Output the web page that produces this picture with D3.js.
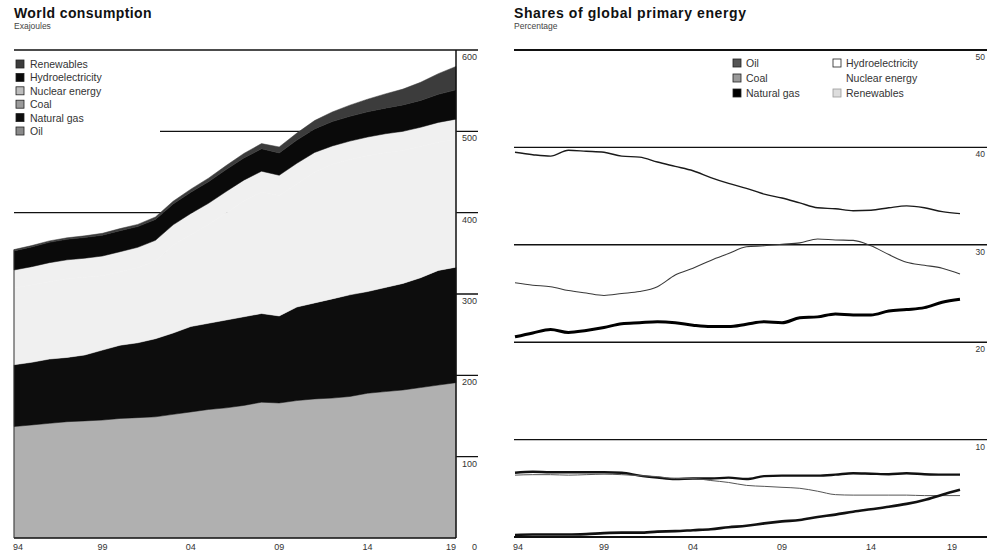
<!DOCTYPE html>
<html>
<head>
<meta charset="utf-8">
<script src="https://cdn.jsdelivr.net/npm/d3@7"></script>
<style>
  body { margin: 0; background: #fff; }
  svg { display: block; font-family: "Liberation Sans", Arial, sans-serif; }
</style>
</head>
<body>
<svg id="chart" width="987" height="555"></svg>
<script>
'use strict';

const years = [1994, 1995, 1996, 1997, 1998, 1999, 2000, 2001, 2002, 2003, 2004, 2005, 2006,
  2007, 2008, 2009, 2010, 2011, 2012, 2013, 2014, 2015, 2016, 2017, 2018, 2019];
const yearTicks = [1994, 1999, 2004, 2009, 2014, 2019];

// World consumption, exajoules
const oil = [137, 139, 141, 143, 144, 145, 147, 148, 149, 152, 155, 158, 160,
  163, 167, 166, 169, 171, 172, 174, 178, 180, 182, 185, 188, 191];
const gas = [76, 77, 79, 79, 81, 86, 90, 92, 96, 100, 105, 106, 108,
  109, 109, 107, 115, 118, 122, 125, 125, 128, 131, 135, 141, 142];
const coal = [94.5, 95, 95.2, 96.9, 95.5, 91.5, 90.5, 92.2, 95.6, 108.1, 113, 121.3, 131.5,
  142.2, 149.5, 148, 151.2, 160.7, 165.6, 166.4, 167, 165.7, 163.4, 161.2, 157.7, 157.1];
const nuclear = [22, 22.6, 23.3, 23.1, 23.5, 24.2, 24.5, 25.2, 25.4, 24.9, 26, 26.2, 26.5,
  25.8, 25.5, 25, 25.5, 24.3, 22.4, 22.6, 23, 23.3, 23.6, 23.8, 24.3, 24.9];
const hydro = [23.5, 24.2, 25, 25.2, 25.4, 25.6, 25.8, 25.5, 25.6, 25.6, 26, 26.5, 27,
  27.2, 27.5, 27.5, 28.5, 29, 30, 30.5, 31, 31.5, 32.5, 33, 34.5, 36];
const renewables = [1.6, 1.7, 1.8, 1.9, 2.1, 2.3, 2.6, 2.7, 3.1, 3.4, 3.9, 4.4, 4.9,
  5.6, 6.4, 7.3, 8.6, 10.2, 11.8, 13.7, 15.5, 17.5, 19.4, 22.3, 25.4, 28.8];
const consumptionTicks = [0, 100, 200, 300, 400, 500, 600];

// Shares of global primary energy, percentage
const oilShare = [39.5, 39.25, 39.1, 39.7, 39.6, 39.5, 39.1, 39.0, 38.5, 38.05, 37.6, 36.9, 36.3,
  35.8, 35.2, 34.8, 34.3, 33.8, 33.7, 33.5, 33.55, 33.8, 34.0, 33.8, 33.4, 33.2];
const coalShare = [26.1, 25.85, 25.7, 25.3, 25.05, 24.8, 25.0, 25.2, 25.7, 26.9, 27.6, 28.4, 29.1,
  29.8, 29.9, 30.05, 30.2, 30.6, 30.5, 30.45, 29.9, 29.0, 28.2, 27.9, 27.6, 27.0];
const gasShare = [20.55, 20.95, 21.3, 21.0, 21.2, 21.5, 21.9, 22.0, 22.1, 22.0, 21.75, 21.6, 21.6,
  21.85, 22.1, 22.0, 22.5, 22.6, 22.9, 22.8, 22.8, 23.2, 23.35, 23.55, 24.1, 24.4];
const hydroShare = [6.6, 6.7, 6.65, 6.65, 6.65, 6.65, 6.6, 6.3, 6.1, 5.95, 6.0, 6.0, 6.1,
  5.95, 6.25, 6.3, 6.3, 6.3, 6.4, 6.55, 6.5, 6.45, 6.55, 6.45, 6.4, 6.4];
const nuclearShare = [6.35, 6.4, 6.4, 6.35, 6.4, 6.45, 6.4, 6.3, 6.2, 6.0, 6.0, 5.8, 5.6,
  5.3, 5.2, 5.1, 5.0, 4.7, 4.35, 4.3, 4.3, 4.3, 4.3, 4.25, 4.25, 4.25];
const renewShare = [0.2, 0.25, 0.25, 0.25, 0.3, 0.4, 0.45, 0.45, 0.55, 0.6, 0.7, 0.8, 1.0,
  1.15, 1.4, 1.6, 1.75, 2.05, 2.3, 2.6, 2.85, 3.1, 3.4, 3.8, 4.35, 4.85];
const shareTicks = [0, 10, 20, 30, 40, 50];

const yy = (y) => String(y).slice(-2);
const svg = d3.select('#chart');

// ---------- left: World consumption (stacked areas) ----------
const layers = [
  { key: 'Oil', values: oil, fill: '#b0b0b0', swatch: '#8a8a8a' },
  { key: 'Natural gas', values: gas, fill: '#0d0d0d', swatch: '#0d0d0d' },
  { key: 'Coal', values: coal, fill: '#f0f0f0', swatch: '#9a9a9a' },
  { key: 'Nuclear energy', values: nuclear, fill: '#f0f0f0', swatch: '#bdbdbd' },
  { key: 'Hydroelectricity', values: hydro, fill: '#0a0a0a', swatch: '#0a0a0a' },
  { key: 'Renewables', values: renewables, fill: '#3c3c3c', swatch: '#3c3c3c' },
];

const rows = years.map((yr, i) => {
  const r = { year: yr };
  layers.forEach((l) => { r[l.key] = l.values[i]; });
  return r;
});

const xL = d3.scaleLinear().domain([1994, 2019]).range([14, 456]);
const yL = d3.scaleLinear().domain([0, 600]).range([538, 50]);

const left = svg.append('g');

left.append('text')
  .attr('x', 14).attr('y', 18)
  .attr('font-size', '14px').attr('font-weight', 'bold')
  .attr('letter-spacing', '0.4px')
  .attr('fill', '#111')
  .text('World consumption');
left.append('text')
  .attr('x', 14).attr('y', 29)
  .attr('font-size', '8.5px').attr('fill', '#444')
  .text('Exajoules');

// gridlines sit behind the areas
left.selectAll('line.grid')
  .data(consumptionTicks.filter((d) => d > 0))
  .enter()
  .append('line')
  .attr('class', 'grid')
  .attr('x1', 14).attr('x2', 478)
  .attr('y1', (d) => yL(d)).attr('y2', (d) => yL(d))
  .attr('stroke', '#111')
  .attr('stroke-width', (d) => d === 600 ? 1.6 : 1.3);

const stack = d3.stack().keys(layers.map((l) => l.key));
const series = stack(rows);

const area = d3.area()
  .x((d) => xL(d.data.year))
  .y0((d) => yL(d[0]))
  .y1((d) => yL(d[1]));

left.selectAll('path.layer')
  .data(series)
  .enter()
  .append('path')
  .attr('class', 'layer')
  .attr('d', area)
  .attr('fill', (d, i) => layers[i].fill)
  .attr('stroke', (d, i) => layers[i].fill)
  .attr('stroke-width', 0.5);

// axis lines
left.append('line')
  .attr('x1', xL(2019)).attr('x2', xL(2019))
  .attr('y1', yL(600)).attr('y2', yL(0))
  .attr('stroke', '#111').attr('stroke-width', 1.5);
left.append('line')
  .attr('x1', 14).attr('x2', xL(2019))
  .attr('y1', yL(0)).attr('y2', yL(0))
  .attr('stroke', '#111').attr('stroke-width', 1.5);
left.append('line')
  .attr('x1', 14).attr('x2', 14)
  .attr('y1', yL(d3.sum(layers, (l) => l.values[0]))).attr('y2', yL(0))
  .attr('stroke', '#333').attr('stroke-width', 1);

left.selectAll('text.ytick')
  .data(consumptionTicks)
  .enter()
  .append('text')
  .attr('class', 'ytick')
  .attr('x', 477)
  .attr('y', (d) => d === 0 ? 550 : yL(d) + 10)
  .attr('text-anchor', 'end')
  .attr('font-size', '9px').attr('fill', '#333')
  .text((d) => d);

left.selectAll('text.xtick')
  .data(yearTicks)
  .enter()
  .append('text')
  .attr('class', 'xtick')
  .attr('x', (d) => xL(d) + (d === 1994 ? 4 : d === 2019 ? -5 : 0))
  .attr('y', 550)
  .attr('text-anchor', 'middle')
  .attr('font-size', '9px').attr('fill', '#333')
  .text(yy);

// legend (white box hides the gridline behind it)
const legL = left.append('g');
legL.append('rect')
  .attr('x', 14).attr('y', 56).attr('width', 146).attr('height', 86)
  .attr('fill', '#fff');
const legendLeft = layers.slice().reverse();
legL.selectAll('rect.sw')
  .data(legendLeft)
  .enter()
  .append('rect')
  .attr('class', 'sw')
  .attr('x', 16).attr('y', (d, i) => 60 + i * 13.4)
  .attr('width', 8).attr('height', 8)
  .attr('fill', (d) => d.swatch)
  .attr('stroke', '#222').attr('stroke-width', 0.8);
legL.selectAll('text')
  .data(legendLeft)
  .enter()
  .append('text')
  .attr('x', 30).attr('y', (d, i) => 68 + i * 13.4)
  .attr('font-size', '10.5px').attr('fill', '#333')
  .text((d) => d.key);

// ---------- right: Shares of global primary energy ----------
const lines = [
  { key: 'Oil', values: oilShare, color: '#1a1a1a', width: 1.4 },
  { key: 'Coal', values: coalShare, color: '#3a3a3a', width: 1.1 },
  { key: 'Natural gas', values: gasShare, color: '#000', width: 3 },
  { key: 'Hydroelectricity', values: hydroShare, color: '#111', width: 2.4 },
  { key: 'Nuclear energy', values: nuclearShare, color: '#555', width: 1 },
  { key: 'Renewables', values: renewShare, color: '#111', width: 2.6 },
];

const xR = d3.scaleLinear().domain([1994, 2019]).range([515, 960]);
const yR = d3.scaleLinear().domain([0, 50]).range([537, 50]);

const right = svg.append('g');

right.append('text')
  .attr('x', 514).attr('y', 18)
  .attr('font-size', '14px').attr('font-weight', 'bold')
  .attr('letter-spacing', '0.6px')
  .attr('fill', '#111')
  .text('Shares of global primary energy');
right.append('text')
  .attr('x', 514).attr('y', 29)
  .attr('font-size', '8.5px').attr('fill', '#444')
  .text('Percentage');

right.selectAll('line.grid')
  .data(shareTicks)
  .enter()
  .append('line')
  .attr('class', 'grid')
  .attr('x1', 514).attr('x2', 987)
  .attr('y1', (d) => yR(d)).attr('y2', (d) => yR(d))
  .attr('stroke', '#111')
  .attr('stroke-width', (d) => d === 0 || d === 50 ? 1.8 : 1.4);

// tick labels at the right edge, kept fully inside the picture
right.selectAll('text.ytick')
  .data(shareTicks.filter((d) => d > 0))
  .enter()
  .append('text')
  .attr('class', 'ytick')
  .attr('x', 985)
  .attr('y', (d) => yR(d) + 10)
  .attr('text-anchor', 'end')
  .attr('font-size', '8.5px').attr('fill', '#333')
  .text((d) => d);

right.selectAll('text.xtick')
  .data(yearTicks)
  .enter()
  .append('text')
  .attr('class', 'xtick')
  .attr('x', (d) => xR(d) + (d === 1994 ? 3 : d === 2019 ? -8 : 0))
  .attr('y', 550)
  .attr('text-anchor', 'middle')
  .attr('font-size', '9px').attr('fill', '#333')
  .text(yy);

const line = d3.line()
  .x((d, i) => xR(years[i]))
  .y((d) => yR(d))
  .curve(d3.curveMonotoneX);

right.selectAll('path.share')
  .data(lines)
  .enter()
  .append('path')
  .attr('class', 'share')
  .attr('d', (d) => line(d.values))
  .attr('fill', 'none')
  .attr('stroke', (d) => d.color)
  .attr('stroke-width', (d) => d.width)
  .attr('stroke-linejoin', 'round');

// legend, two columns
const legendRight = [
  { key: 'Oil', fill: '#555', col: 0, row: 0 },
  { key: 'Coal', fill: '#999', col: 0, row: 1 },
  { key: 'Natural gas', fill: '#000', col: 0, row: 2 },
  { key: 'Hydroelectricity', fill: '#fff', col: 1, row: 0 },
  { key: 'Nuclear energy', fill: 'none', col: 1, row: 1 },
  { key: 'Renewables', fill: '#ddd', col: 1, row: 2 },
];
const legR = right.append('g');
legR.selectAll('rect')
  .data(legendRight.filter((d) => d.fill !== 'none'))
  .enter()
  .append('rect')
  .attr('x', (d) => 733 + d.col * 100).attr('y', (d) => 59 + d.row * 15)
  .attr('width', 8).attr('height', 8)
  .attr('fill', (d) => d.fill)
  .attr('stroke', (d) => d.key === 'Renewables' ? '#999' : '#222')
  .attr('stroke-width', 0.8);
legR.selectAll('text')
  .data(legendRight)
  .enter()
  .append('text')
  .attr('x', (d) => 746 + d.col * 100).attr('y', (d) => 67 + d.row * 15)
  .attr('font-size', '10.5px').attr('fill', '#333')
  .text((d) => d.key);
</script>
</body>
</html>
